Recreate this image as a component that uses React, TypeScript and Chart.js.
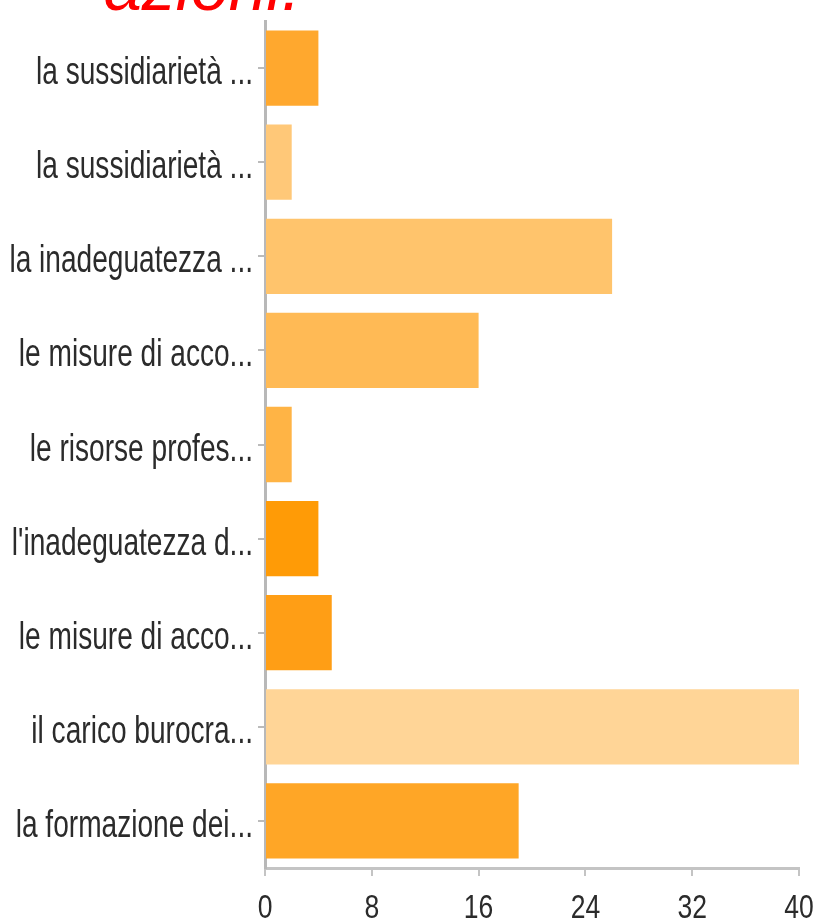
import React, { useEffect, useRef } from "react";
import { Chart, registerables } from "chart.js";

Chart.register(...registerables);

const categories = [
  "la sussidiarietà ...",
  "la sussidiarietà ...",
  "la inadeguatezza ...",
  "le misure di acco...",
  "le risorse profes...",
  "l'inadeguatezza d...",
  "le misure di acco...",
  "il carico burocra...",
  "la formazione dei...",
];
const values = [4, 2, 26, 16, 2, 4, 5, 40, 19];
const barColors = [
  "#FFA82E",
  "#FFC878",
  "#FFC46C",
  "#FFBA55",
  "#FFB445",
  "#FF9B06",
  "#FF9E15",
  "#FFD597",
  "#FFA626",
];
const xTicks = [0, 8, 16, 24, 32, 40];
const headerText = "azioni.";

const FONT = "'Liberation Sans', Arial, sans-serif";

const narrowLabels = {
  id: "narrowLabels",
  afterDraw(chart: any) {
    const ctx = chart.ctx as CanvasRenderingContext2D;
    const ys = chart.scales.y;
    const xs = chart.scales.x;
    ctx.save();
    ctx.fillStyle = "#2b2b2b";
    ctx.font = `38px ${FONT}`;
    const refW = ctx.measureText(categories[0]).width;
    const sy = 217 / refW;
    categories.forEach((c, i) => {
      const py = ys.getPixelForValue(i);
      ctx.save();
      ctx.translate(ys.right - 12, py + 16);
      ctx.scale(sy, 1);
      ctx.textAlign = "right";
      ctx.textBaseline = "alphabetic";
      ctx.fillText(c, 0, 0);
      ctx.restore();
    });
    ctx.font = `34px ${FONT}`;
    xTicks.forEach((v) => {
      const px = xs.getPixelForValue(v);
      ctx.save();
      ctx.translate(px, xs.top + 50);
      ctx.scale(0.78, 1);
      ctx.textAlign = "center";
      ctx.textBaseline = "alphabetic";
      ctx.fillText(String(v), 0, 0);
      ctx.restore();
    });
    ctx.restore();
  },
};

export default function App() {
  const ref = useRef<HTMLCanvasElement | null>(null);

  useEffect(() => {
    if (!ref.current) return;
    const chart = new Chart(ref.current, {
      type: "bar",
      data: {
        labels: categories,
        datasets: [
          {
            data: values,
            backgroundColor: barColors,
            borderWidth: 0,
            categoryPercentage: 0.8,
            barPercentage: 1.0,
          },
        ],
      },
      options: {
        indexAxis: "y",
        animation: false,
        responsive: false,
        maintainAspectRatio: false,
        layout: { padding: { left: 0, right: 22, top: 21, bottom: 0 } },
        plugins: { legend: { display: false }, tooltip: { enabled: false } },
        scales: {
          x: {
            min: 0,
            max: 40,
            afterBuildTicks: (s: any) => {
              s.ticks = xTicks.map((v) => ({ value: v }));
            },
            afterFit: (s: any) => {
              s.height = 54;
            },
            grid: {
              display: true,
              drawOnChartArea: false,
              drawTicks: true,
              tickLength: 8,
              color: "#c4c4c4",
              lineWidth: 2,
            },
            border: { display: true, color: "#c4c4c4", width: 3 },
            ticks: { display: false },
          },
          y: {
            afterFit: (s: any) => {
              s.width = 265;
            },
            grid: {
              display: true,
              drawOnChartArea: false,
              drawTicks: true,
              tickLength: 7,
              offset: false,
              color: "#bbbbbb",
              lineWidth: 2,
            },
            border: { display: true, color: "#b8b8b8", width: 3 },
            ticks: { display: false },
          },
        },
      },
      plugins: [narrowLabels],
    });
    return () => chart.destroy();
  }, []);

  return (
    <div style={{ position: "absolute", left: 0, top: 0, width: 821, height: 922, background: "#fff", overflow: "hidden" }}>
      <div
        style={{
          position: "absolute",
          left: 104,
          top: -48,
          fontFamily: "'Liberation Sans', Arial, sans-serif",
          fontStyle: "italic",
          fontSize: 68,
          lineHeight: "68px",
          color: "#ff0000",
          whiteSpace: "nowrap",
        }}
      >
        {headerText}
      </div>
      <canvas ref={ref} width={821} height={922} style={{ position: "absolute", left: 0, top: 0 }} />
    </div>
  );
}
